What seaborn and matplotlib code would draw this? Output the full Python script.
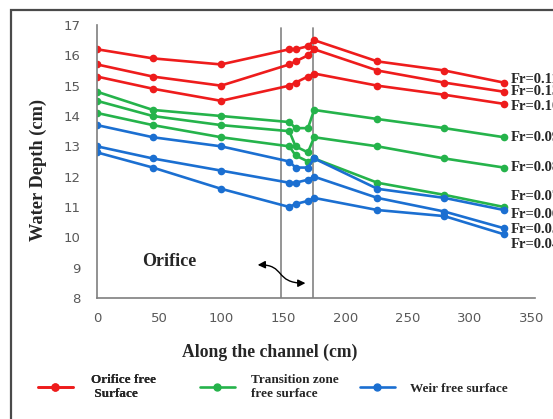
import numpy as np
import pandas as pd
import matplotlib
matplotlib.use("Agg")
import matplotlib.pyplot as plt
from matplotlib.lines import Line2D
from matplotlib.patches import FancyArrowPatch, Rectangle
from matplotlib.path import Path
import seaborn as sns

# ---------------- data ----------------
distance = [0, 45, 100, 155, 160, 170, 175, 226, 280, 328]

orifice_1 = [16.2, 15.9, 15.7, 16.2, 16.2, 16.3, 16.5, 15.8, 15.5, 15.1]
orifice_2 = [15.7, 15.3, 15.0, 15.7, 15.8, 16.0, 16.2, 15.5, 15.1, 14.8]
orifice_3 = [15.3, 14.9, 14.5, 15.0, 15.1, 15.3, 15.4, 15.0, 14.7, 14.4]
transition_1 = [14.8, 14.2, 14.0, 13.8, 13.6, 13.6, 14.2, 13.9, 13.6, 13.3]
transition_2 = [14.5, 14.0, 13.7, 13.5, 13.0, 12.8, 13.3, 13.0, 12.6, 12.3]
transition_3 = [14.1, 13.7, 13.3, 13.0, 12.7, 12.5, 12.6, 11.8, 11.4, 11.0]
weir_1 = [13.7, 13.3, 13.0, 12.5, 12.3, 12.3, 12.6, 11.6, 11.3, 10.9]
weir_2 = [13.0, 12.6, 12.2, 11.8, 11.8, 11.9, 12.0, 11.3, 10.85, 10.3]
weir_3 = [12.8, 12.3, 11.6, 11.0, 11.1, 11.2, 11.3, 10.9, 10.7, 10.1]

fr_labels = ["Fr=0.11", "Fr=0.13", "Fr=0.10", "Fr=0.09", "Fr=0.08",
             "Fr=0.07", "Fr=0.06", "Fr=0.05", "Fr=0.04"]
fr_label_y = [15.19, 14.8, 14.32, 13.3, 12.3, 11.35, 10.75, 10.25, 9.75]

legend_labels = ["Orifice free\n Surface", "Transition zone\nfree surface",
                 "Weir free surface"]
x_ticks = [0, 50, 100, 150, 200, 250, 300, 350]
y_ticks = [8, 9, 10, 11, 12, 13, 14, 15, 16, 17]

# ---------------- styling ----------------
RED = "#ee1c1c"
GREEN = "#25b34b"
BLUE = "#1b6fd1"

series = {
    "o1": (orifice_1, RED), "o2": (orifice_2, RED), "o3": (orifice_3, RED),
    "t1": (transition_1, GREEN), "t2": (transition_2, GREEN), "t3": (transition_3, GREEN),
    "w1": (weir_1, BLUE), "w2": (weir_2, BLUE), "w3": (weir_3, BLUE),
}

rows = []
for name, (vals, _) in series.items():
    for xv, yv in zip(distance, vals):
        rows.append({"series": name, "x": xv, "depth": yv})
df = pd.DataFrame(rows)
palette = {k: v[1] for k, v in series.items()}

sns.set_style("white")
plt.rcParams["font.family"] = ["DejaVu Sans"]

fig = plt.figure(figsize=(5.53, 4.19), dpi=100)
ax = fig.add_axes([97 / 553, 1 - 298 / 419, (535 - 97) / 553, (298 - 25) / 419])

sns.lineplot(data=df, x="x", y="depth", hue="series", palette=palette,
             marker="o", markersize=5.5, markeredgewidth=0, linewidth=1.9,
             sort=False, legend=False, ax=ax)

ax.set_xlim(0, 353)
ax.set_ylim(8, 17)
ax.set_xticks(x_ticks)
ax.set_yticks(y_ticks)
ax.tick_params(axis="both", length=0, labelsize=9.5, labelcolor="#595959")
ax.tick_params(axis="x", pad=10)
ax.tick_params(axis="y", pad=12)
for s in ["top", "right"]:
    ax.spines[s].set_visible(False)
for s in ["left", "bottom"]:
    ax.spines[s].set_color("#7f7f7f")
    ax.spines[s].set_linewidth(1.2)
ax.set_xlabel("")
ax.set_ylabel("")

# orifice zone boundaries
for xv in [148, 174]:
    ax.plot([xv, xv], [8, 16.9], color="#8c8c8c", lw=1.3, zorder=1)

# labels
serif = ["Liberation Serif", "DejaVu Serif"]
fig.text(270 / 553, 1 - 352 / 419, "Along the channel (cm)", ha="center",
         va="center", fontsize=12.7, fontweight="bold", family=serif)
fig.text(38 / 553, 1 - 170 / 419, "Water Depth (cm)", ha="center",
         va="center", rotation=90, fontsize=13.2, fontweight="bold", family=serif)

ax.text(58, 9.2, "Orifice", ha="center", va="center", fontsize=13,
        fontweight="bold", family=serif)

# Fr labels run past the right edge of the image, as in the reference
for lab, yv in zip(fr_labels, fr_label_y):
    ax.text(333.5, yv, lab, ha="left", va="center", fontsize=10.5,
            fontweight="bold", family=serif, clip_on=False)

# double-headed curved arrow
verts = [(129.5, 9.09), (152, 9.12), (143, 8.48), (168, 8.49)]
path = Path(verts, [Path.MOVETO, Path.CURVE4, Path.CURVE4, Path.CURVE4])
arrow = FancyArrowPatch(path=path, arrowstyle="<|-|>", mutation_scale=11,
                        color="black", lw=1.0, transform=ax.transData)
ax.add_patch(arrow)

# legend (two groups to reproduce the spacing)
colors = [RED, GREEN, BLUE]
handles = [Line2D([0], [0], color=c, lw=1.9, marker="o", markersize=5)
           for c in colors]
prop = {"family": serif, "weight": "bold", "size": 9.5}
leg1 = fig.legend(handles[:1], legend_labels[:1], loc="center left", ncol=1,
                  bbox_to_anchor=(26 / 553, 1 - 387 / 419), frameon=False,
                  handlelength=2.65, handletextpad=1.4, prop=prop)
fig.add_artist(leg1)
fig.legend(handles[1:], legend_labels[1:], loc="center left", ncol=2,
           bbox_to_anchor=(188 / 553, 1 - 387 / 419), frameon=False,
           handlelength=2.65, handletextpad=1.2, columnspacing=1.6,
           prop=prop)
# 'Weir free surface' sits a bit further from its handle in the reference

# outer frame
fig.patches.append(Rectangle((11 / 553, -0.1), 1.2, 1 - 10 / 419 + 0.1,
                             transform=fig.transFigure, fill=False,
                             edgecolor="#4a4a4a", lw=1.6, zorder=10))

fig.savefig("out.png", dpi=100)
